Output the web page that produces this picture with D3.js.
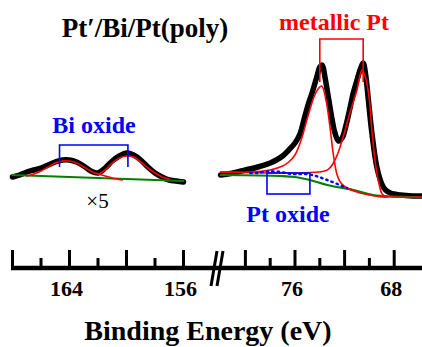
<!DOCTYPE html>
<html>
<head>
<meta charset="utf-8">
<script src="https://cdn.jsdelivr.net/npm/d3@7/dist/d3.min.js"></script>
</head>
<body style="margin:0">
<div id="chart"></div>
<script>
// Bi 4f region (x5), binding energy in eV, intensity in a.u.
var biEnergy = [168, 167.5, 167, 166.5, 166, 165.5, 165, 164.5, 164, 163.5, 163, 162.5, 162,
                161.5, 161, 160.5, 160, 159.5, 159, 158.5, 158, 157.5, 157, 156.5, 156];
var biData   = [11.5, 12.5, 14, 15, 16, 17.5, 19, 20, 20, 19, 17, 14.5, 13.5,
                16, 19.5, 22, 23.5, 22.5, 20, 16.5, 13.5, 11.5, 10, 9.5, 9];
var biFitE   = [167, 166.5, 166, 165.5, 165, 164.5, 164, 163.5, 163, 162.5, 162,
                161.5, 161, 160.5, 160, 159.5, 159, 158.5, 158, 157.5, 157];
var biFit    = [12, 13, 14.5, 16.5, 18.5, 19.5, 19.5, 18.5, 16.5, 14.5, 13,
                15, 18.5, 21, 22, 21.5, 19, 16, 13.5, 11.5, 10.5];
var biTailE  = [162.2, 161.5, 161, 160.3];
var biTail   = [13.5, 12, 11, 10];
var biBgE    = [168, 156];
var biBg     = [12.5, 9.5];

// Pt 4f region
var ptEnergy = [82, 81, 80, 79, 78, 77.5, 77, 76.5, 76, 75.6, 75.2, 74.9, 74.6, 74.2, 74, 73.8,
                73.6, 73.3, 73, 72.8, 72.5, 72.2, 71.9, 71.6, 71.3, 71, 70.7, 70.5, 70.3,
                70.1, 69.8, 69.4, 69, 68.7, 68.3, 67.5, 66.5, 65.8];
var ptData   = [12.5, 13.5, 15, 16.5, 18.5, 20, 22, 25, 28.5, 33, 42, 48.5, 54, 62.5, 66.5, 67.5,
                62, 51, 40, 34, 29.5, 31, 37, 45, 53.5, 60, 66, 68.5, 62.5,
                51, 33.5, 16.5, 8, 5, 3.5, 2.5, 2, 2];
var pt52E    = [82, 79.5, 78, 77, 76.5, 76, 75.5, 75, 74.5, 74.2, 73.85, 73.5, 73.2, 72.9,
                72.6, 72.3, 71.8, 71, 70, 69, 68.5];
var pt52     = [14, 14, 15, 17, 19, 22.5, 30, 41, 51, 55, 57, 50, 37.5, 22.5,
                12.5, 8.5, 6, 4, 2.5, 1.5, 1.5];
var pt72E    = [82, 73.6, 73.2, 72.9, 72.5, 72, 71.5, 71, 70.6, 70.3, 70, 69.8, 69.5, 69.2,
                68.9, 68, 65.8];
var pt72     = [14, 14.5, 16, 18.5, 24, 34, 45, 55, 65, 61, 50, 35, 17.5, 7.5,
                2.5, 1.5, 1.5];
var ptOxE    = [79.6, 79.1, 78.3, 77.5, 76.2, 74.8, 73.4, 72.1, 71.8];
var ptOx     = [13.5, 13.5, 14.25, 14.25, 13, 12.75, 10, 6.75, 6];
var ptBgE    = [82, 77.2, 76, 74.8, 73.4, 71.3, 69.7, 65.9];
var ptBg     = [12.5, 12, 11.5, 10, 7.5, 5, 2.5, 1.5];

// axis ticks
var biMajor = [168, 164, 160, 156], biMinor = [166, 162, 158];
var ptMajor = [80, 76, 72, 68],     ptMinor = [78, 74, 70];
var biLabels = [164, 156], ptLabels = [76, 68];

var width = 422, height = 347;
var axisY = 268;

var xBi = d3.scaleLinear().domain([168, 156]).range([12.5, 183.5]);
var xPt = d3.scaleLinear().domain([76, 68]).range([295, 394.2]);
var y = d3.scaleLinear().domain([0, 100]).range([200, 0]);

var svg = d3.select("#chart").append("svg")
    .attr("width", width)
    .attr("height", height);

function zip(es, vs) {
  return es.map(function(e, i) { return [e, vs[i]]; });
}

function drawLine(x, es, vs, color, w, dash) {
  var line = d3.line()
      .x(function(d) { return x(d[0]); })
      .y(function(d) { return y(d[1]); })
      .curve(d3.curveCatmullRom.alpha(0.5));
  var p = svg.append("path")
      .datum(zip(es, vs))
      .attr("d", line)
      .attr("fill", "none")
      .attr("stroke", color)
      .attr("stroke-width", w)
      .attr("stroke-linejoin", "round")
      .attr("stroke-linecap", "round");
  if (dash) p.attr("stroke-dasharray", dash);
  return p;
}

function bracket(x, e1, e2, top, b1, b2, color) {
  svg.append("path")
      .attr("d", "M" + x(e1) + "," + y(b1) + "V" + y(top) + "H" + x(e2) + "V" + y(b2))
      .attr("fill", "none")
      .attr("stroke", color)
      .attr("stroke-width", 1.6);
}

// Bi panel
drawLine(xBi, biEnergy, biData, "#000", 5.5);
drawLine(xBi, biBgE, biBg, "#008000", 2);
drawLine(xBi, biFitE, biFit, "#ff0000", 1.6);
drawLine(xBi, biTailE, biTail, "#ff0000", 1.6);
bracket(xBi, 164.7, 159.9, 27.5, 16.5, 16.5, "#0000ff");

// Pt panel
drawLine(xPt, ptEnergy, ptData, "#000", 5.5);
drawLine(xPt, ptBgE, ptBg, "#008000", 2.2);
drawLine(xPt, pt52E, pt52, "#ff0000", 1.6);
drawLine(xPt, pt72E, pt72, "#ff0000", 1.6);
drawLine(xPt, ptOxE, ptOx, "#0000ff", 2.4, "1.5,4");
bracket(xPt, 74.0, 70.5, 80.5, 59, 59, "#ff0000");

// Pt oxide box
svg.append("rect")
    .attr("x", xPt(78.26))
    .attr("y", y(13.5))
    .attr("width", xPt(74.8) - xPt(78.26))
    .attr("height", y(3) - y(13.5))
    .attr("fill", "none")
    .attr("stroke", "#0000ff")
    .attr("stroke-width", 1.6);

// broken x axis
svg.append("line")
    .attr("x1", xBi(168) - 1.5).attr("x2", width)
    .attr("y1", axisY).attr("y2", axisY)
    .attr("stroke", "#000").attr("stroke-width", 4.5);

function ticks(x, vals, len) {
  svg.selectAll(null).data(vals).enter().append("line")
      .attr("x1", function(d) { return x(d); })
      .attr("x2", function(d) { return x(d); })
      .attr("y1", axisY).attr("y2", axisY - len)
      .attr("stroke", "#000").attr("stroke-width", 3);
}
ticks(xBi, biMajor, 18);
ticks(xBi, biMinor, 10);
ticks(xPt, ptMajor, 18);
ticks(xPt, ptMinor, 10);

// axis break marks
[0, 6].forEach(function(dx) {
  svg.append("line")
      .attr("x1", 211 + dx).attr("y1", 286)
      .attr("x2", 217 + dx).attr("y2", 251)
      .attr("stroke", "#000").attr("stroke-width", 3);
});

// all text labels
var texts = [
  {t: "164", x: xBi(164) - 3, y: 296, s: 22, w: "bold", c: "#000"},
  {t: "156", x: xBi(156) - 3, y: 296, s: 22, w: "bold", c: "#000"},
  {t: "76",  x: xPt(76) - 3,  y: 296, s: 22, w: "bold", c: "#000"},
  {t: "68",  x: xPt(68) - 3,  y: 296, s: 22, w: "bold", c: "#000"},
  {t: "Pt\u2032/Bi/Pt(poly)", x: 145, y: 37, s: 27, w: "bold", c: "#000"},
  {t: "metallic Pt", x: 334, y: 30, s: 24, w: "bold", c: "#ff0000"},
  {t: "Bi oxide", x: 94, y: 133, s: 24, w: "bold", c: "#0000ff"},
  {t: "Pt oxide", x: 288, y: 222, s: 24, w: "bold", c: "#0000ff"},
  {t: "\u00d75", x: 97.5, y: 208, s: 21, w: "normal", c: "#000"},
  {t: "Binding Energy (eV)", x: 208, y: 340, s: 28, w: "bold", c: "#000"}
];
svg.selectAll("text.lbl").data(texts).enter().append("text")
    .attr("class", "lbl")
    .attr("x", function(d) { return d.x; })
    .attr("y", function(d) { return d.y; })
    .attr("text-anchor", "middle")
    .attr("font-family", "Liberation Serif")
    .attr("font-size", function(d) { return d.s; })
    .attr("font-weight", function(d) { return d.w; })
    .attr("fill", function(d) { return d.c; })
    .text(function(d) { return d.t; });
</script>
</body>
</html>
